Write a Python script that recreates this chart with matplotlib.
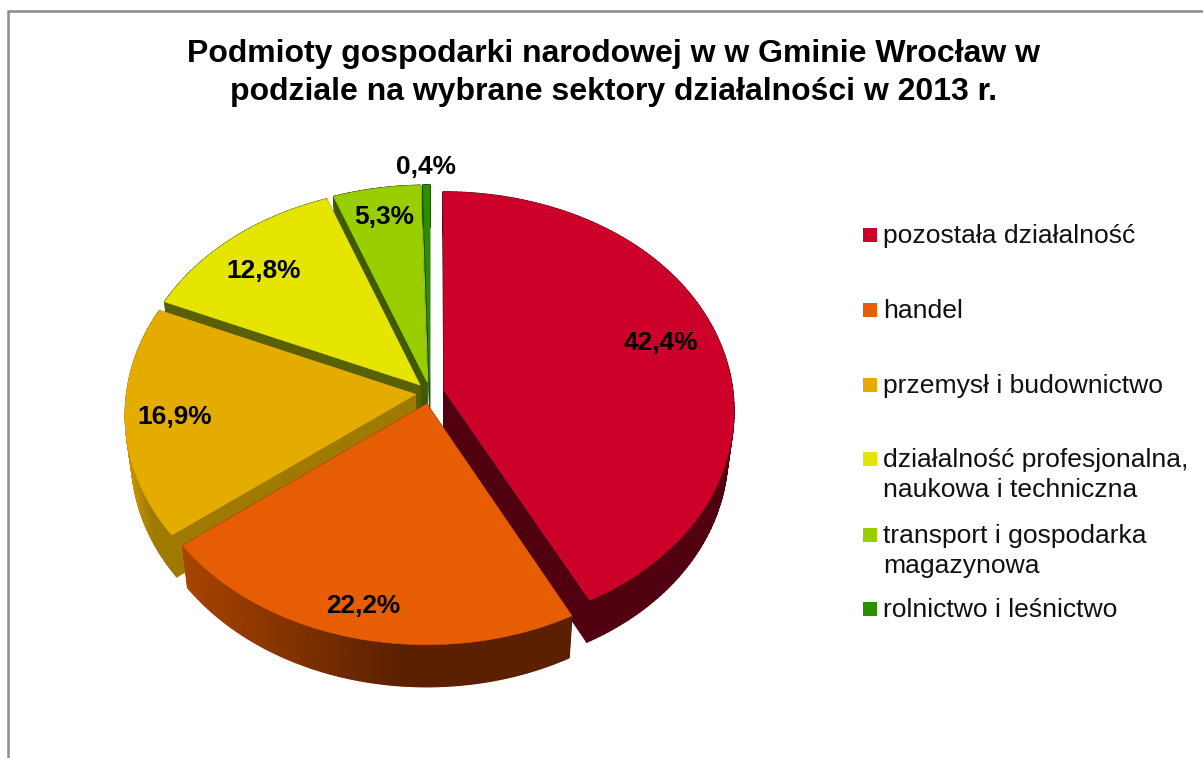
import numpy as np
import matplotlib
matplotlib.use("Agg")
import matplotlib.pyplot as plt
from matplotlib.patches import Polygon, Rectangle
from matplotlib.collections import PolyCollection
from matplotlib.colors import to_rgb

categories = ["pozostała działalność", "handel", "przemysł i budownictwo",
              "działalność profesjonalna,\nnaukowa i techniczna",
              "transport i gospodarka\nmagazynowa", "rolnictwo i leśnictwo"]
values = [42.4, 22.2, 16.9, 12.8, 5.3, 0.4]
title = "Podmioty gospodarki narodowej w w Gminie Wrocław w\npodziale na wybrane sektory działalności w 2013 r."

top_colors = ["#CC0028", "#E75D04", "#E5AC00", "#E5E500", "#99CF00", "#2A9000"]
cut_colors = ["#50000F", "#50000F", "#A07A00", "#5A5F00", "#415A00", "#1E5000"]
arc_left = ["#50000F", "#A84400", "#CC9A00", "#5A5F00", "#415A00", "#1E5000"]
arc_right = ["#50000F", "#5A2000", "#A07A00", "#5A5F00", "#415A00", "#1E5000"]
paint_order = [5, 4, 3, 2, 0, 1]
label_xy = [(660.5, 343), (363.5, 606), (175, 417), (264, 271), (384.5, 217), (426, 167)]
legend_y = [235, 310, 385, 459, 535, 609]

fig = plt.figure(figsize=(12.03, 7.58), dpi=100, facecolor="white")
ax = fig.add_axes([0, 0, 1, 1])
wedges, _ = ax.pie(values, startangle=90, counterclock=False,
                   explode=[0.05] * len(values), radius=1)
outlines = []
for w in wedges:
    t = np.radians(np.linspace(w.theta1, w.theta2, 160))
    outlines.append((w.center, w.r, t))
    w.remove()
ax.set_aspect("auto")
ax.set_xlim(0, 1203)
ax.set_ylim(758, 0)
ax.axis("off")

CX, CY, RY, QY = 430.0, 393.0, 219.0, 20.0
DEPTH, SHRINK = 42.0, 0.98


def project(u, v):
    return CX + u * (289.0 - 25.4 * v + 3.9 * v * v), CY - RY * v + QY * v * v


def lower(x, y):
    return CX + (x - CX) * SHRINK, y + DEPTH


for i in paint_order:
    (cu, cv), r, t = outlines[i]
    au, av = cu + r * np.cos(t), cv + r * np.sin(t)
    ax_, ay_ = project(au, av)
    apx, apy = project(cu, cv)
    lx, ly = lower(ax_, ay_)
    lapx, lapy = lower(apx, apy)
    # flat cut faces
    for j in (0, -1):
        ax.add_patch(Polygon([(apx, apy), (ax_[j], ay_[j]), (lx[j], ly[j]), (lapx, lapy)],
                             closed=True, fc=cut_colors[i], ec=cut_colors[i], lw=0.5, zorder=2))
    # curved side: a solid band, then a horizontal shade over it
    c0, c1 = np.array(to_rgb(arc_left[i])), np.array(to_rgb(arc_right[i]))
    ax.add_patch(Polygon(np.r_[np.c_[ax_, ay_], np.c_[lx, ly][::-1]], closed=True,
                         fc=(c0 + c1) / 2, ec="none", zorder=2))
    quads, cols = [], []
    for k in range(len(t) - 1):
        quads.append([(ax_[k], ay_[k]), (ax_[k + 1], ay_[k + 1]), (lx[k + 1], ly[k + 1]), (lx[k], ly[k])])
        f = np.clip((ax_[k] - ax_.min()) / max(0.56 * (ax_.max() - ax_.min()), 1), 0, 1)
        cols.append(c0 + (c1 - c0) * f)
    ax.add_collection(PolyCollection(quads, facecolors=cols, edgecolors=cols, linewidths=1.0, zorder=2))
    # top face
    ax.add_patch(Polygon(np.c_[np.r_[apx, ax_], np.r_[apy, ay_]], closed=True,
                         fc=top_colors[i], ec=top_colors[i], lw=0.4, zorder=2))

FONT = "Liberation Sans"
for val, (x, y) in zip(values, label_xy):
    ax.text(x, y, f"{val:.1f}".replace(".", ",") + "%", ha="center", va="center",
            fontsize=18.9, fontweight="bold", family=FONT, color="black", zorder=5)

for cat, col, y in zip(categories, top_colors, legend_y):
    ax.add_patch(Rectangle((863, y - 7), 14, 14, fc=col, ec="none", zorder=5))
    ax.text(883, y - 11, cat, ha="left", va="top", fontsize=19.05, family=FONT,
            color="#111111", linespacing=1.31, zorder=5)

ax.text(613.5, 73, title, ha="center", va="center", fontsize=23, fontweight="bold",
        family=FONT, color="black", linespacing=1.35, zorder=5)

# chart frame
ax.plot([7.5, 7.5, 1203], [758, 11, 11], color="#8C8C8C", lw=1.8, zorder=6, clip_on=False,
        solid_joinstyle="miter")

fig.savefig("out.png", dpi=100)
